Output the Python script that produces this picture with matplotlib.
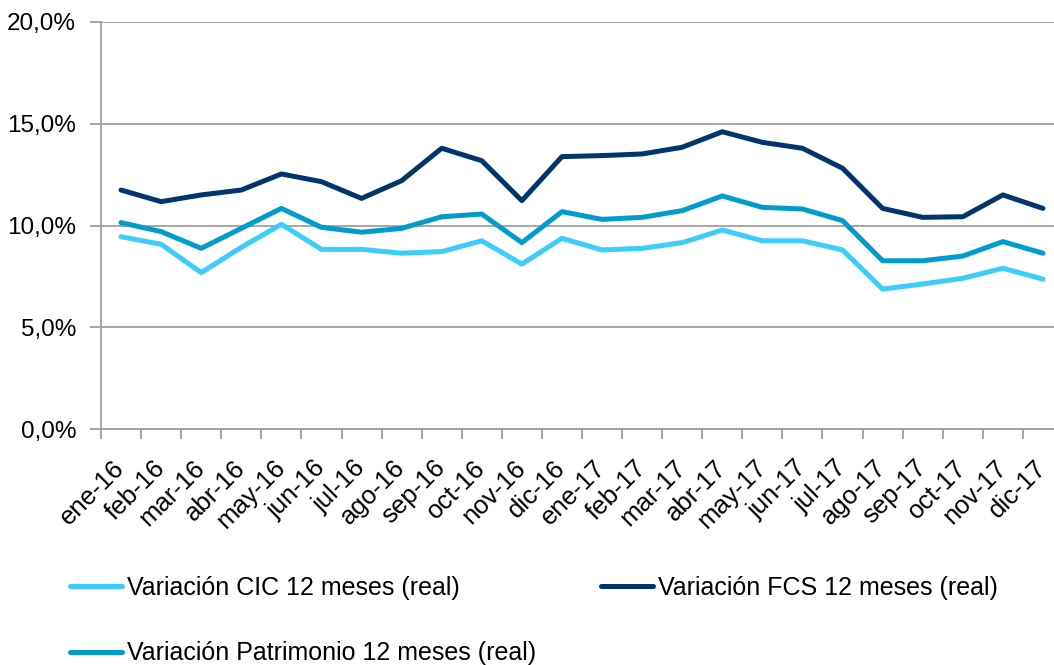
import numpy as np
import matplotlib
matplotlib.use('Agg')
import matplotlib.pyplot as plt
from matplotlib.ticker import FuncFormatter, FixedLocator

plt.rcParams['font.family'] = ['Liberation Sans', 'DejaVu Sans']

# Months (ene-16 .. dic-17)
meses = ['ene-16', 'feb-16', 'mar-16', 'abr-16', 'may-16', 'jun-16', 'jul-16', 'ago-16',
         'sep-16', 'oct-16', 'nov-16', 'dic-16', 'ene-17', 'feb-17', 'mar-17', 'abr-17',
         'may-17', 'jun-17', 'jul-17', 'ago-17', 'sep-17', 'oct-17', 'nov-17', 'dic-17']

# 12-month real variation, %
cic = [9.45, 9.08, 7.69, 8.93, 10.06, 8.83, 8.83, 8.64, 8.72, 9.25, 8.11, 9.37,
       8.80, 8.88, 9.16, 9.78, 9.25, 9.25, 8.80, 6.88, 7.13, 7.41, 7.90, 7.37]
fcs = [11.74, 11.17, 11.50, 11.74, 12.53, 12.15, 11.33, 12.20, 13.79, 13.18, 11.22, 13.38,
       13.43, 13.51, 13.84, 14.60, 14.08, 13.79, 12.81, 10.84, 10.40, 10.43, 11.50, 10.84]
patrimonio = [10.14, 9.70, 8.88, 9.86, 10.84, 9.91, 9.67, 9.86, 10.43, 10.56, 9.16, 10.68,
              10.30, 10.40, 10.73, 11.45, 10.89, 10.81, 10.24, 8.27, 8.27, 8.50, 9.21, 8.64]

c_cic = '#3ccdfd'
c_fcs = '#00366b'
c_pat = '#009ccd'
grid_c = '#a0a0a0'

fig = plt.figure(figsize=(10.54, 6.65), dpi=100)
# axes run past the right edge, as in the (cropped) original
ax = fig.add_axes([101 / 1054, (665 - 429.3) / 665, 962 / 1054, 407.6 / 665])

x = np.arange(len(meses))
lw = 3.6
l_cic, = ax.plot(x, cic, color=c_cic, lw=lw, label='Variación CIC 12 meses (real)', solid_capstyle='round')
l_fcs, = ax.plot(x, fcs, color=c_fcs, lw=lw, label='Variación FCS 12 meses (real)', solid_capstyle='round')
l_pat, = ax.plot(x, patrimonio, color=c_pat, lw=lw, label='Variación Patrimonio 12 meses (real)', solid_capstyle='round')

ax.set_xlim(-0.5, len(meses) - 0.5)
ax.set_ylim(0, 20)
ax.set_yticks([0, 5, 10, 15, 20])
ax.yaxis.set_major_formatter(FuncFormatter(lambda v, p: f'{v:.1f}%'.replace('.', ',')))
ax.yaxis.grid(True, color=grid_c, lw=1.3)
ax.set_axisbelow(True)

ax.set_xticks(x)
ax.set_xticklabels(meses, rotation=45, ha='right', va='center', rotation_mode='anchor', fontsize=18.5)
ax.xaxis.set_minor_locator(FixedLocator(np.arange(-0.5, len(meses), 1)))
ax.tick_params(axis='x', which='major', length=0, pad=25)
ax.tick_params(axis='x', which='minor', length=7, width=1.3, color=grid_c, direction='out')
ax.tick_params(axis='y', length=8, width=1.3, color=grid_c, labelsize=17.5, pad=10)

for s in ['top', 'right']:
    ax.spines[s].set_visible(False)
for s in ['left', 'bottom']:
    ax.spines[s].set_color(grid_c)
    ax.spines[s].set_linewidth(1.3)

leg = fig.legend(handles=[l_cic, l_pat, l_fcs], ncol=2, loc='upper left',
                 bbox_to_anchor=(70 / 1054, 1 - 576 / 665), frameon=False,
                 fontsize=18, handlelength=2.08, handletextpad=0.2,
                 columnspacing=2.6, labelspacing=1.65, borderaxespad=0, borderpad=0)

fig.savefig('out.png', dpi=100)
